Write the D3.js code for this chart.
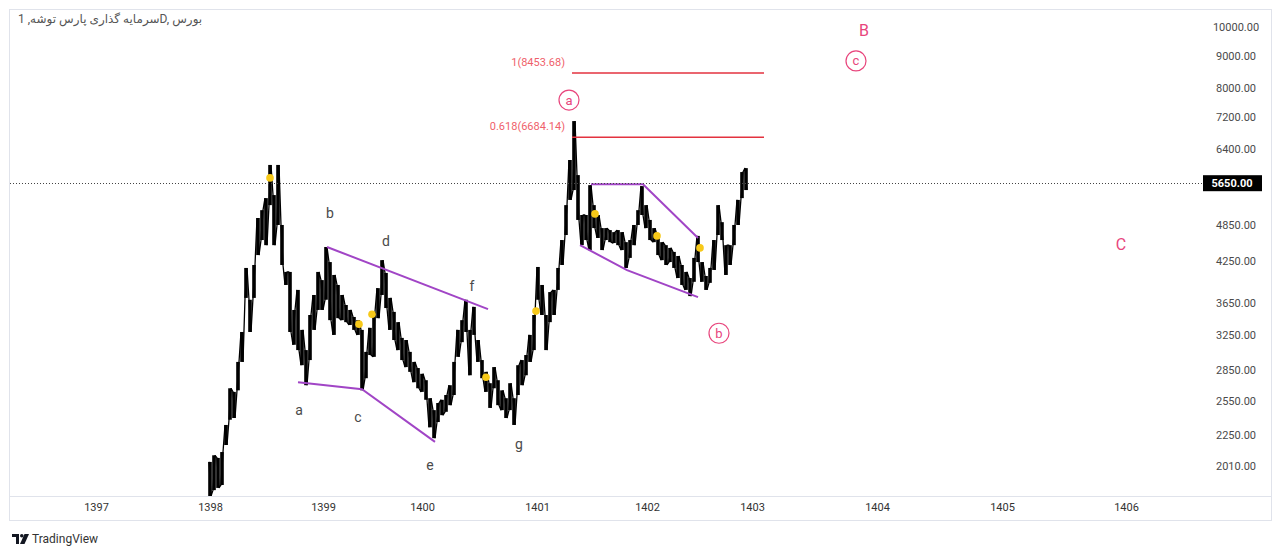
<!DOCTYPE html>
<html lang="fa">
<head>
<meta charset="UTF-8">
<title>سرمایه گذاری پارس توشه</title>
<script src="https://cdn.jsdelivr.net/npm/d3@7/dist/d3.min.js"></script>
<style>
  body { margin: 0; background: #fff; }
  text { font-family: Roboto, "DejaVu Sans", sans-serif; }
</style>
</head>
<body>
<script>
// bar highs / lows (one bar per slot, first bar at slot 50)
var firstSlot = 50;
var highs = [2040,2090,2070,2115,2335,2670,2635,2940,3280,4145,3690,4190,4975,5120,5350,6040,5410,6040,4850,4085,
  4085,3555,3825,3305,3070,3490,3755,4085,3965,4475,4235,4040,3895,3755,3620,3555,3465,3425,3305,3050,
  3330,3530,3850,4265,4070,3715,3530,3400,3210,3185,3050,2940,2875,2815,2750,2575,2465,2530,2560,2605,
  2700,2940,3305,3425,3690,3305,3595,3185,2960,2835,2720,2885,2750,2650,2575,2720,2575,2905,2960,3015,
  3245,3490,4160,3895,3490,3795,3825,4145,4590,5215,6150,7090,5820,5030,5030,5610,5215,5030,4795,4795,
  4760,4725,4760,4725,4555,4590,4850,5120,5590,5215,4940,4795,4675,4555,4505,4460,4395,4330,4190,4085,
  3995,4300,4660,4235,4025,4145,4590,5215,4900,4505,4505,4850,5315,5885,5970];
var lows = [1800,1840,1855,1875,2170,2380,2395,2650,2940,3715,3280,3715,4345,4590,4505,5215,4505,4850,4190,3895,
  3280,3130,3070,2905,2700,2960,3305,3555,3555,3690,3425,3245,3450,3425,3400,3365,3305,3245,2650,2770,
  3015,2995,3450,3755,3580,3305,3185,3070,2960,2885,2835,2730,2670,2635,2560,2315,2225,2360,2420,2450,
  2510,2605,2995,3160,3280,2800,3245,2940,2770,2635,2485,2670,2510,2465,2395,2465,2335,2605,2700,2800,
  2940,3070,3690,3490,3070,3400,3490,3825,4190,4675,5315,5510,4940,4505,4590,4425,4795,4625,4425,4590,
  4555,4540,4505,4425,4145,4300,4505,4850,5030,4795,4590,4555,4345,4265,4190,4235,4145,3995,3895,3825,
  3740,3940,4235,3940,3825,3925,4115,4675,4590,4040,4190,4505,4850,5350,5510];

var lastPrice = 5650;

var priceTicks = [10000, 9000, 8000, 7200, 6400, 4850, 4250, 3650, 3250, 2850, 2550, 2250, 2010];
var yearLabels = ["1397","1398","1399","1400","1401","1402","1403","1404","1405","1406"];
var yearSlots  = [21.5, 50, 78.25, 103, 131.75, 159.25, 185.5, 216.75, 248, 279];

// fibonacci extension
var fibLevels = [{ratio: "1", price: 8453.68}, {ratio: "0.618", price: 6684.14}];
var fibFrom = 140.5, fibTo = 188.5;

// purple trend lines  [slot, price]
var trendLines = [
  [[72, 2730], [88, 2660], [106.25, 2195]],
  [[79.25, 4475], [119.5, 3565]],
  [[145.25, 5630], [158.25, 5630], [172, 4625]],
  [[142.5, 4505], [154.25, 4113], [172, 3725]]
];

// yellow markers
var dots = [[65, 5760], [87.25, 3375], [90.5, 3500], [119, 2780], [131.5, 3540], [146.25, 5050], [161.75, 4660], [172.5, 4460]];

// wave letters (gray)
var waveLetters = [
  {t: "a", slot: 72.25, price: 2466}, {t: "b", slot: 80, price: 5065}, {t: "c", slot: 87, price: 2400},
  {t: "d", slot: 94, price: 4575}, {t: "e", slot: 105, price: 2015}, {t: "f", slot: 115.5, price: 3880},
  {t: "g", slot: 127.25, price: 2180}
];
// elliott labels (pink)
var circledLabels = [{t: "a", slot: 139.75, price: 7655}, {t: "b", slot: 177.25, price: 3265}, {t: "c", slot: 211.5, price: 8835}];
var bigLabels = [{t: "B", slot: 213.5, price: 9890}, {t: "C", slot: 277.75, price: 4525}, {t: "A", slot: 125.25, price: 1762}];

var title = "سرمایه گذاری پارس توشه, 1D, بورس";

var W = 1280, H = 557;
var pL = 10, pT = 9, pR = 1190, pB = 496;
var pink = "#e8457c", purple = "#a145c6";

var svg = d3.select("body").append("svg")
    .attr("width", W).attr("height", H);

var x = d3.scaleLinear().domain([0, 295]).range([pL, pR]);
var y = d3.scaleLog().domain([1801, 10680]).range([pB, pT]);

// frame
svg.append("rect")
    .attr("x", 9.5).attr("y", 9.5).attr("width", 1262).attr("height", 511)
    .attr("fill", "none").attr("stroke", "#e0e3eb");
svg.append("line")
    .attr("x1", 9.5).attr("x2", 1271.5).attr("y1", pB + 0.5).attr("y2", pB + 0.5)
    .attr("stroke", "#e0e3eb");

svg.append("defs").append("clipPath").attr("id", "plot")
  .append("rect").attr("x", pL).attr("y", pT).attr("width", pR - pL).attr("height", pB - pT);

var plot = svg.append("g").attr("clip-path", "url(#plot)");

// last price dotted line
svg.append("line")
    .attr("x1", pL).attr("x2", 1203)
    .attr("y1", Math.round(y(lastPrice)) + 0.5).attr("y2", Math.round(y(lastPrice)) + 0.5)
    .attr("stroke", "#444").attr("stroke-dasharray", "1,2");

// bars: a high-low stick per bar, joined by a zigzag so the band reads continuous
var step = x(1) - x(0);
plot.selectAll(".bar")
  .data(highs)
  .enter().append("rect")
    .attr("class", "bar")
    .attr("x", function(d, i) { return x(firstSlot + i) - step * 0.45; })
    .attr("width", step * 0.9)
    .attr("y", function(d) { return y(d); })
    .attr("height", function(d, i) { return y(lows[i]) - y(d); })
    .attr("fill", "#000");

var zig = [];
highs.forEach(function(h, i) {
  var s = firstSlot + i;
  if (i % 2 === 0) { zig.push([s - 0.25, h]); zig.push([s + 0.25, lows[i]]); }
  else { zig.push([s - 0.25, lows[i]]); zig.push([s + 0.25, h]); }
});
var line = d3.line().x(function(d) { return x(d[0]); }).y(function(d) { return y(d[1]); });
plot.append("path")
    .attr("d", line(zig))
    .attr("fill", "none").attr("stroke", "#000").attr("stroke-width", 1.3)
    .attr("stroke-linejoin", "bevel");

// fib lines
plot.selectAll(".fib")
  .data(fibLevels)
  .enter().append("line")
    .attr("x1", x(fibFrom)).attr("x2", x(fibTo))
    .attr("y1", function(d) { return y(d.price); })
    .attr("y2", function(d) { return y(d.price); })
    .attr("stroke", "#e3323f").attr("stroke-width", 1.6);
plot.selectAll(".fibtxt")
  .data(fibLevels)
  .enter().append("text")
    .attr("x", x(fibFrom) - 7)
    .attr("y", function(d) { return y(d.price) - 11; })
    .attr("dy", "0.35em")
    .attr("text-anchor", "end")
    .attr("font-size", 11)
    .attr("fill", "#ef5f6b")
    .text(function(d) { return d.ratio + "(" + d.price.toFixed(2) + ")"; });

// trend lines
plot.selectAll(".trend")
  .data(trendLines)
  .enter().append("path")
    .attr("d", line)
    .attr("fill", "none").attr("stroke", purple).attr("stroke-width", 2);

// markers
plot.selectAll(".dot")
  .data(dots)
  .enter().append("circle")
    .attr("cx", function(d) { return x(d[0]); })
    .attr("cy", function(d) { return y(d[1]); })
    .attr("r", 3.8)
    .attr("fill", "#f7c919");

// gray letters
plot.selectAll(".wl")
  .data(waveLetters)
  .enter().append("text")
    .attr("x", function(d) { return x(d.slot); })
    .attr("y", function(d) { return y(d.price); })
    .attr("dy", "0.35em")
    .attr("text-anchor", "middle")
    .attr("font-size", 14)
    .attr("fill", "#4a4a4a")
    .text(function(d) { return d.t; });

// circled labels
var cl = plot.selectAll(".cl")
  .data(circledLabels)
  .enter().append("g")
    .attr("transform", function(d) { return "translate(" + x(d.slot) + "," + y(d.price) + ")"; });
cl.append("circle").attr("r", 10).attr("fill", "#fff").attr("stroke", pink).attr("stroke-width", 1.2);
cl.append("text")
    .attr("dy", "0.35em").attr("text-anchor", "middle")
    .attr("font-size", 13).attr("fill", pink)
    .text(function(d) { return d.t; });

plot.selectAll(".bl")
  .data(bigLabels)
  .enter().append("text")
    .attr("x", function(d) { return x(d.slot); })
    .attr("y", function(d) { return y(d.price); })
    .attr("dy", "0.35em")
    .attr("text-anchor", "middle")
    .attr("font-size", 16)
    .attr("fill", pink)
    .text(function(d) { return d.t; });

// price axis
var yAxis = svg.append("g")
    .attr("transform", "translate(" + pR + ",0)")
    .call(d3.axisRight(y).tickValues(priceTicks).tickSize(0).tickFormat(d3.format(".2f")));
yAxis.select(".domain").remove();
yAxis.selectAll("text")
    .attr("x", 46).attr("text-anchor", "middle")
    .attr("font-size", 11).attr("fill", "#4a4a4a")
    .style("font-family", "Roboto, sans-serif");

// last price label
var lp = svg.append("g").attr("transform", "translate(1232," + y(lastPrice) + ")");
lp.append("rect").attr("x", -29).attr("y", -8).attr("width", 59).attr("height", 16).attr("fill", "#000");
lp.append("text").attr("dy", "0.35em").attr("text-anchor", "middle")
    .attr("font-size", 11).attr("font-weight", "bold").attr("fill", "#fff")
    .text(d3.format(".2f")(lastPrice));

// time axis
var xAxis = svg.append("g")
    .attr("transform", "translate(0," + pB + ")")
    .call(d3.axisBottom(x).tickValues(yearSlots).tickSize(0).tickPadding(7)
      .tickFormat(function(d, i) { return yearLabels[i]; }));
xAxis.select(".domain").remove();
xAxis.selectAll("text")
    .attr("font-size", 11).attr("fill", "#333")
    .style("font-family", "Roboto, sans-serif");

// title
svg.append("text")
    .attr("x", 18).attr("y", 23)
    .attr("font-size", 12).attr("fill", "#555")
    .text(title);

// tradingview logo
var logo = svg.append("g").attr("transform", "translate(12,534)").attr("fill", "#131722");
logo.append("path").attr("d", "M0,0 H7 V10 H4 V3 H0 Z");
logo.append("circle").attr("cx", 9.8).attr("cy", 1.8).attr("r", 1.8);
logo.append("path").attr("d", "M12.5,0 H17 L12.5,10 H8 Z");
svg.append("text")
    .attr("x", 32).attr("y", 543)
    .attr("font-size", 12).attr("fill", "#333")
    .text("TradingView");
</script>
</body>
</html>
